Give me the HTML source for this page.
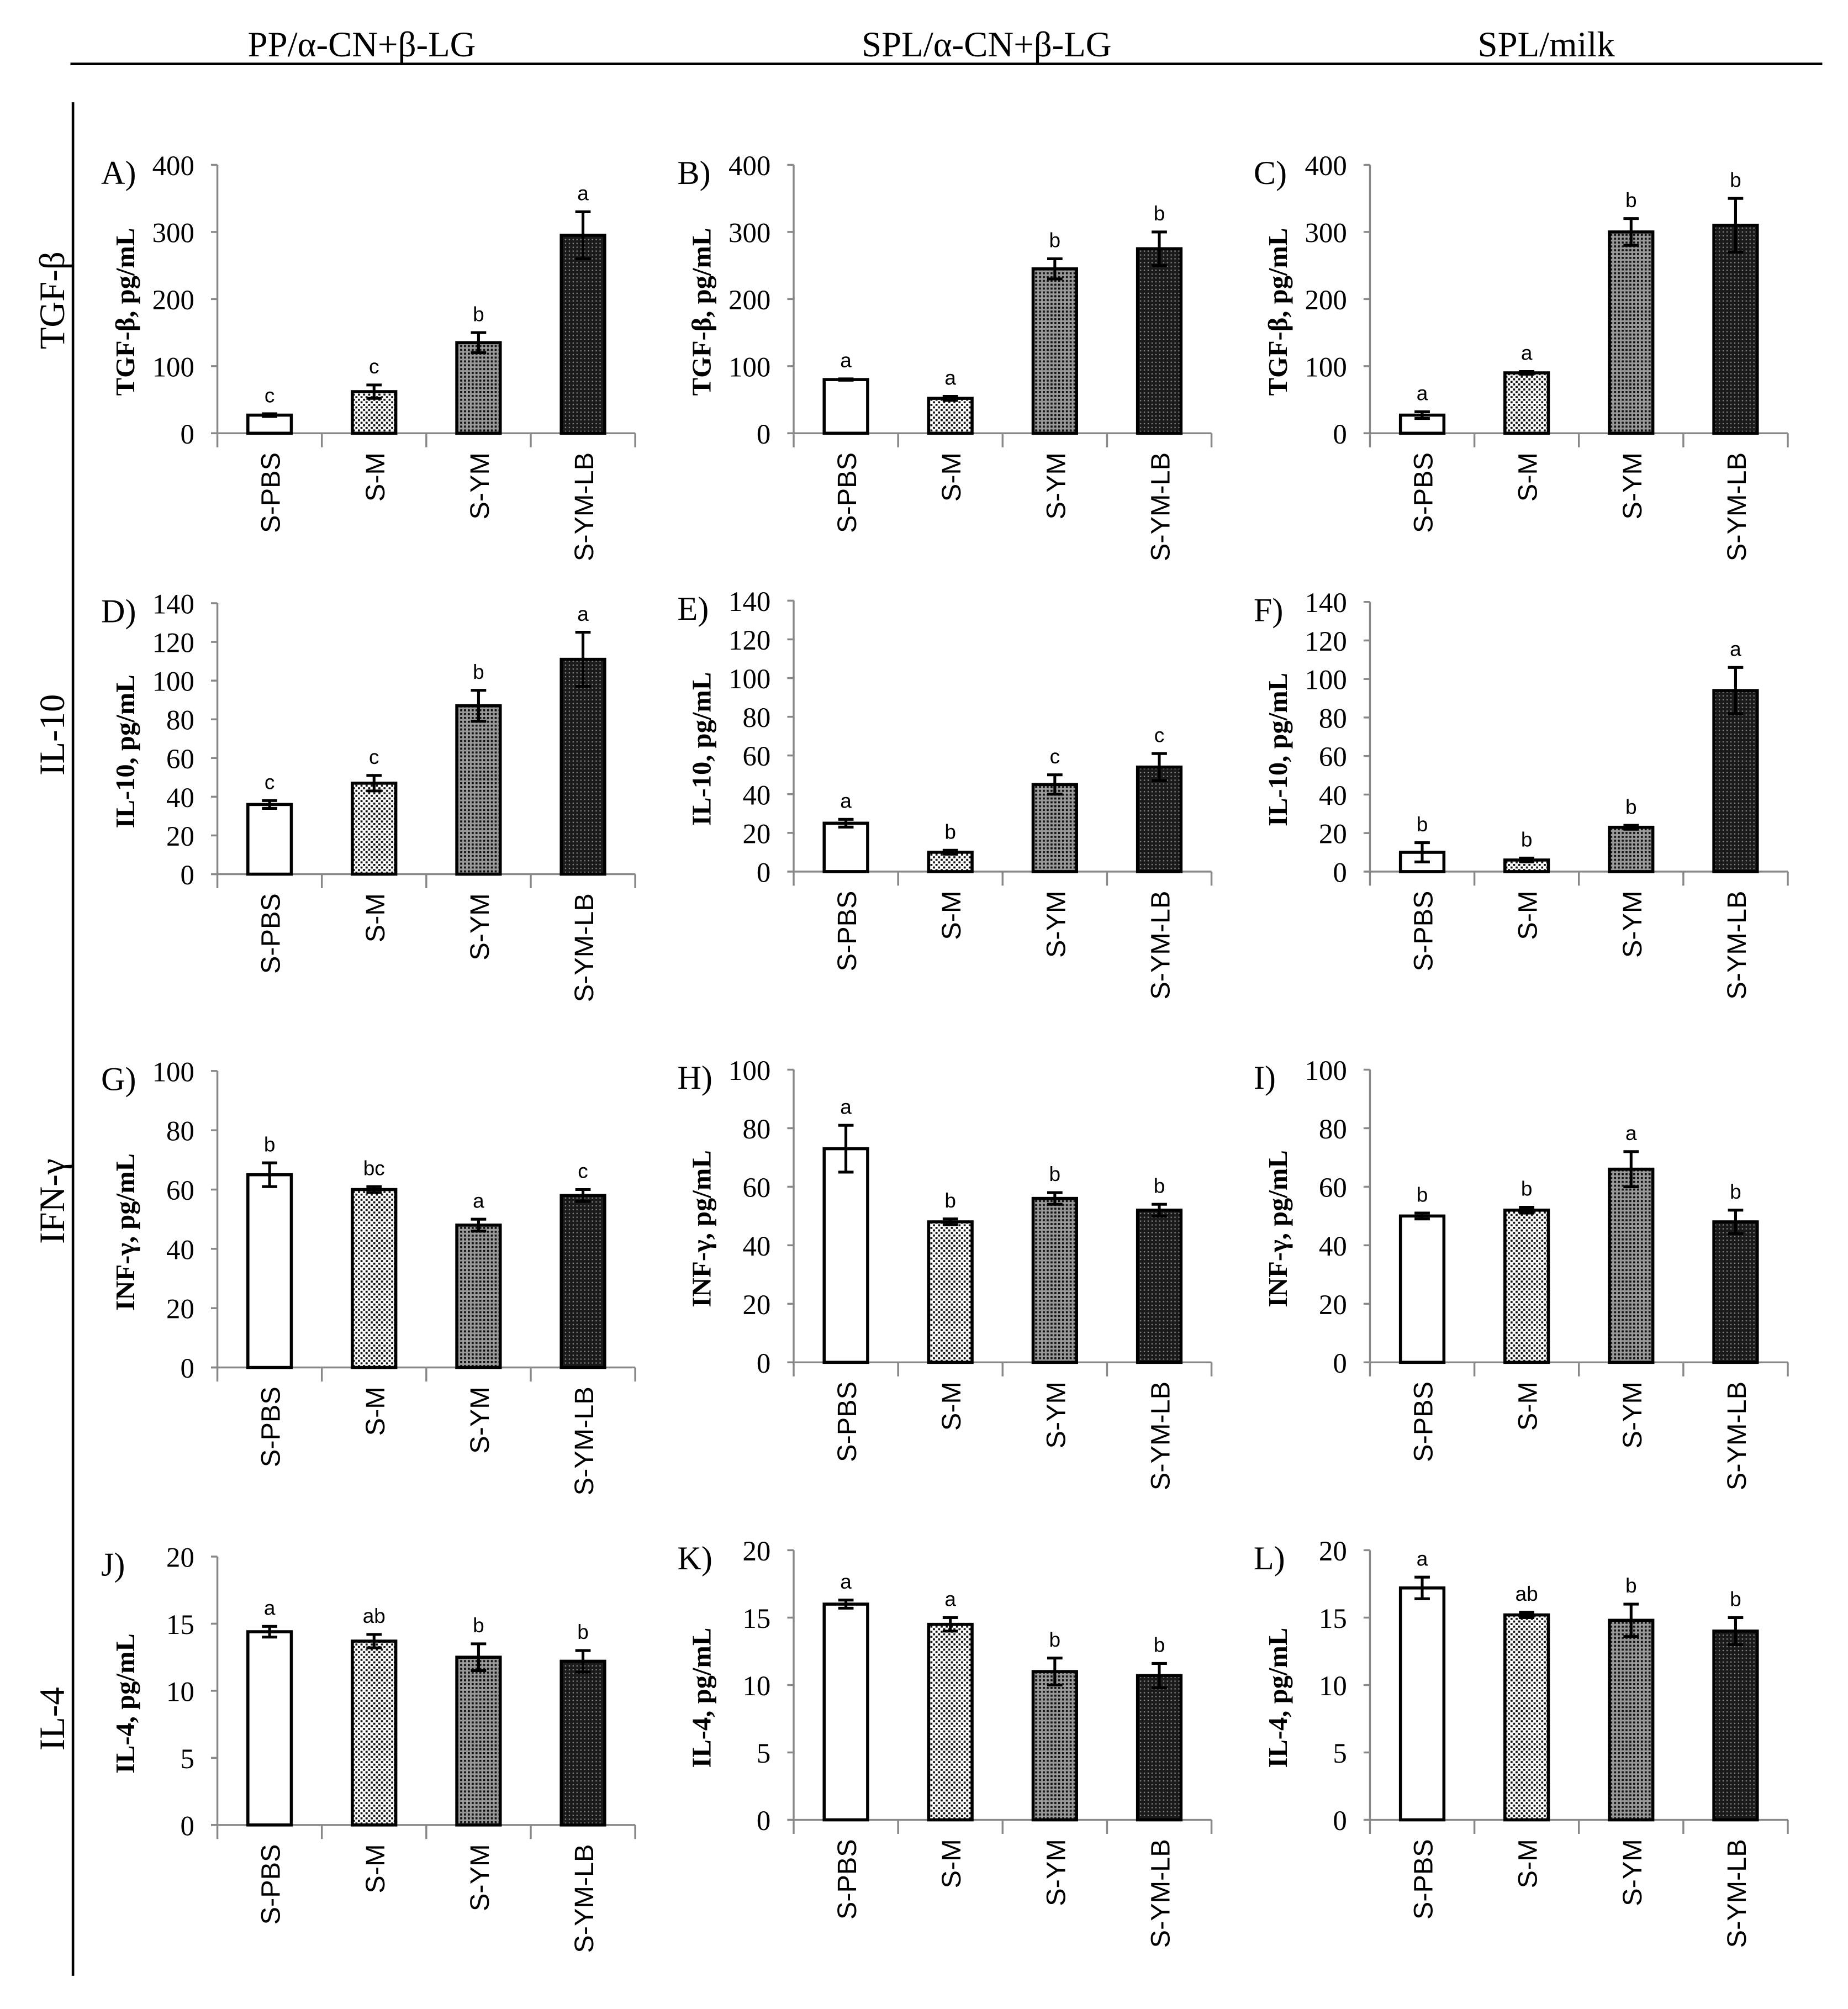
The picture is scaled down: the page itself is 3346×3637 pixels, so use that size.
<!DOCTYPE html>
<html><head><meta charset="utf-8"><style>
html,body{margin:0;padding:0;background:#fff}
svg{display:block}
</style></head><body>
<svg id="fig" width="3346" height="3637" viewBox="0 0 1446 1572" xmlns="http://www.w3.org/2000/svg">
<defs>
<pattern id="pM" width="4" height="4" patternUnits="userSpaceOnUse"><rect width="4" height="4" fill="#fff"/><rect x="0" y="0" width="1.6" height="1.6" fill="#111"/><rect x="2" y="2" width="1.6" height="1.6" fill="#111"/></pattern>
<pattern id="pYM" width="3" height="3" patternUnits="userSpaceOnUse"><rect width="3" height="3" fill="#999"/><rect x="0" y="0" width="1.6" height="1.6" fill="#111"/></pattern>
<pattern id="pLB" width="3" height="3" patternUnits="userSpaceOnUse"><rect width="3" height="3" fill="#1a1a1a"/><rect x="1" y="1" width="1" height="1" fill="#888"/></pattern>
</defs>
<g font-family="Liberation Serif, serif" font-size="28" fill="#000">
<text x="283" y="44" text-anchor="middle">PP/α-CN+β-LG</text>
<text x="772" y="44" text-anchor="middle">SPL/α-CN+β-LG</text>
<text x="1210" y="44" text-anchor="middle">SPL/milk</text>
<text transform="translate(50,235) rotate(-90)" text-anchor="middle">TGF-β</text>
<text transform="translate(50,575) rotate(-90)" text-anchor="middle">IL-10</text>
<text transform="translate(50,940) rotate(-90)" text-anchor="middle">IFN-γ</text>
<text transform="translate(50,1345) rotate(-90)" text-anchor="middle">IL-4</text>
</g>
<line x1="55" y1="50" x2="1426" y2="50" stroke="#000" stroke-width="2"/>
<line x1="57" y1="80" x2="57" y2="1546" stroke="#000" stroke-width="2"/>
<g id="panels"></g>
</svg>
<script>
const categories=["S-PBS","S-M","S-YM","S-YM-LB"];
const panelLabels=["A)","B)","C)","D)","E)","F)","G)","H)","I)","J)","K)","L)"];
const yTitles=["TGF-β, pg/mL","IL-10, pg/mL","INF-γ, pg/mL","IL-4, pg/mL"];
const yMax=[400,140,100,20];
const yStep=[100,20,20,5];
const valA=[27,62,135,295], errA=[2,10,15,35], letA=["c","c","b","a"];
const valB=[80,52,245,275], errB=[1,3,15,25], letB=["a","a","b","b"];
const valC=[27,90,300,310], errC=[5,2,20,40], letC=["a","a","b","b"];
const valD=[36,47,87,111], errD=[2,4,8,14], letD=["c","c","b","a"];
const valE=[25,10,45,54], errE=[2,1,5,7], letE=["a","b","c","c"];
const valF=[10,6,23,94], errF=[5,1,1,12], letF=["b","b","b","a"];
const valG=[65,60,48,58], errG=[4,1,2,2], letG=["b","bc","a","c"];
const valH=[73,48,56,52], errH=[8,1,2,2], letH=["a","b","b","b"];
const valI=[50,52,66,48], errI=[1,1,6,4], letI=["b","b","a","b"];
const valJ=[14.4,13.7,12.5,12.2], errJ=[0.4,0.5,1,0.8], letJ=["a","ab","b","b"];
const valK=[16,14.5,11,10.7], errK=[0.3,0.5,1,0.9], letK=["a","a","b","b"];
const valL=[17.2,15.2,14.8,14], errL=[0.8,0.2,1.2,1], letL=["a","ab","b","b"];
const vals=[valA,valB,valC,valD,valE,valF,valG,valH,valI,valJ,valK,valL];
const errs=[errA,errB,errC,errD,errE,errF,errG,errH,errI,errJ,errK,errL];
const lets=[letA,letB,letC,letD,letE,letF,letG,letH,letI,letJ,letK,letL];
const colX=[170,621,1072];
const rowTop=[[129,129,129],[472,470,471],[838,837,837],[1218,1213,1213]];
const rowBot=[[339,339,339],[684,682,682],[1070,1066,1066],[1428,1424,1424]];
const fills=["#fff","url(#pM)","url(#pYM)","url(#pLB)"];
const NS="http://www.w3.org/2000/svg";
const root=document.getElementById('panels');
function mk(tag,attrs,parent){const e=document.createElementNS(NS,tag);for(const k in attrs)e.setAttribute(k,attrs[k]);parent.appendChild(e);return e;}
for(let r=0;r<4;r++)for(let c=0;c<3;c++){
  const p=r*3+c, x0=colX[c], x1=x0+327, yT=rowTop[r][c], yB=rowBot[r][c];
  const g=mk('g',{},root);
  
  
  const y=v=>yB-(v/yMax[r])*(yB-yT);
  const bw=(x1-x0)/4;
  const xc=i=>x0+bw*(i+0.5);
  const lab=mk('text',{x:x0-91,y:yT+15,'font-family':'Liberation Serif, serif','font-size':'26'},g);
  lab.textContent=panelLabels[p];
  
  
  const yt=mk('text',{transform:`translate(${x0-65},${(yT+yB)/2+10}) rotate(-90)`,'text-anchor':'middle','font-family':'Liberation Serif, serif','font-size':'21','font-weight':'bold'},g);
  yt.textContent=yTitles[r];
  
  
  for(let v=0;v<=yMax[r];v+=yStep[r]){
    const t=mk('text',{x:x0-18,y:y(v)+8,'text-anchor':'end','font-family':'Liberation Serif, serif','font-size':'22'},g);
    t.textContent=v;
    
    
    mk('line',{x1:x0-5,x2:x0,y1:y(v),y2:y(v),stroke:'#888','stroke-width':1.5},g);
  }
  const ax=mk('line',{x1:x0,x2:x0,y1:yT,y2:yB+11,stroke:'#888','stroke-width':1.5},g);
  
  
  const xa=mk('line',{x1:x0-5,x2:x1,y1:yB,y2:yB,stroke:'#888','stroke-width':1.5},g);
  
  
  for(let i=1;i<=4;i++)mk('line',{x1:x0+bw*i,x2:x0+bw*i,y1:yB,y2:yB+11,stroke:'#888','stroke-width':1.5},g);
  for(let i=0;i<4;i++){
    const v=vals[p][i], e=errs[p][i];
    const b=mk('rect',{x:xc(i)-17,y:y(v),width:34,height:yB-y(v),fill:fills[i],stroke:'#000','stroke-width':2.4},g);
    
    
    const eb=mk('path',{d:`M${xc(i)},${y(v-e)}V${y(v+e)}M${xc(i)-6},${y(v+e)}H${xc(i)+6}M${xc(i)-6},${y(v-e)}H${xc(i)+6}`,stroke:'#000','stroke-width':2.2,fill:'none'},g);
    
    
    const l=mk('text',{x:xc(i),y:y(v+e)-9,'text-anchor':'middle','font-family':'Liberation Sans, sans-serif','font-size':'16'},g);
    l.textContent=lets[p][i];
    
    
    const cl=mk('text',{transform:`translate(${xc(i)+8},${yB+15}) rotate(-90)`,'text-anchor':'end','font-family':'Liberation Sans, sans-serif','font-size':'21'},g);
    cl.textContent=categories[i];
    
    
  }
}
</script>
</body></html>
